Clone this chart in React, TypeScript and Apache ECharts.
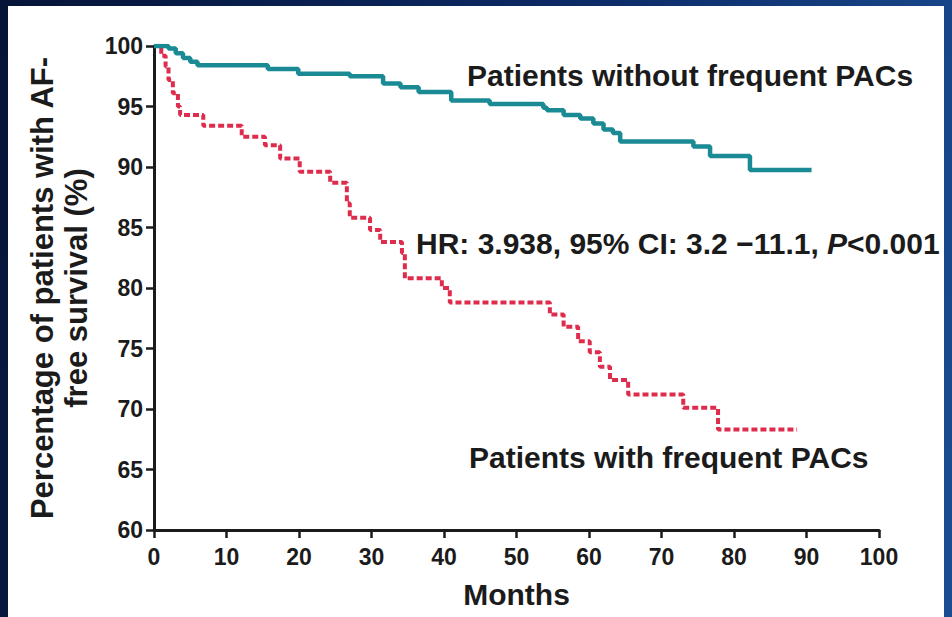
import React, { useEffect, useRef } from "react";
import * as echarts from "echarts";

// Kaplan–Meier steps (month, % AF-free)
const withoutMonths = [0, 2, 3, 4, 5, 6, 15.7, 19.9, 27, 31.6, 34, 36.5, 41, 46.3, 53.7, 54.2, 56.5, 58.8, 60.6, 62, 63.3, 64.3, 74.4, 76.7, 82.2, 90.7];
const withoutValues = [100, 99.8, 99.4, 99.0, 98.7, 98.4, 98.1, 97.7, 97.5, 96.9, 96.6, 96.2, 95.5, 95.2, 94.9, 94.7, 94.3, 94.0, 93.6, 93.1, 92.8, 92.1, 91.7, 90.9, 89.75, 89.75];

const withMonths = [0, 1.0, 1.6, 2.0, 2.6, 3.3, 3.6, 6.8, 12.1, 15.3, 17.4, 20.1, 24.3, 26.6, 27, 29.8, 31.2, 34.2, 34.6, 39.7, 40.8, 54.6, 56.5, 58.5, 60.1, 61.5, 62.9, 65.4, 73, 77.8, 88.7];
const withValues = [100, 99.2, 98.3, 97.2, 96.1, 95.0, 94.3, 93.4, 92.5, 91.8, 90.7, 89.6, 88.7, 87.0, 85.8, 84.8, 83.8, 82.9, 80.8, 80.0, 78.8, 77.8, 76.8, 75.6, 74.7, 73.5, 72.4, 71.2, 70.1, 68.3, 68.3];

const xTicks = { min: 0, max: 100, interval: 10 };
const yTicks = { min: 60, max: 100, interval: 5 };

const labelWithout = "Patients without frequent PACs";
const labelWith = "Patients with frequent PACs";
const hrText = "HR: 3.938, 95% CI: 3.2 \u221211.1, ";
const xTitle = "Months";
const yTitle = "Percentage of patients with AF-\nfree survival (%)";

const FONT = "Liberation Sans, Arial, sans-serif";
const INK = "#1b1b1b";

export default function App() {
  const ref = useRef<HTMLDivElement>(null);

  useEffect(() => {
    document.body.style.margin = "0";
    if (!ref.current) return;
    const chart = echarts.init(ref.current, null, { renderer: "svg" });
    const zip = (a: number[], b: number[]) => a.map((v, i) => [v, b[i]]);
    chart.setOption({
      animation: false,
      grid: { left: 154, right: 73, top: 46, bottom: 87, containLabel: false },
      xAxis: {
        type: "value",
        min: xTicks.min,
        max: xTicks.max,
        interval: xTicks.interval,
        name: xTitle,
        nameLocation: "middle",
        nameGap: 48,
        nameTextStyle: { fontFamily: FONT, fontWeight: "bold", fontSize: 30, color: INK, lineHeight: 32 },
        axisLine: { show: true, lineStyle: { color: INK, width: 3 } },
        axisTick: { show: true, length: 8, lineStyle: { color: INK, width: 2.5 } },
        axisLabel: { margin: 15, fontFamily: FONT, fontWeight: "bold", fontSize: 23, color: INK },
        splitLine: { show: false },
      },
      yAxis: {
        type: "value",
        min: yTicks.min,
        max: yTicks.max,
        interval: yTicks.interval,
        name: yTitle,
        nameLocation: "middle",
        nameRotate: 90,
        nameGap: 58,
        nameTextStyle: { fontFamily: FONT, fontWeight: "bold", fontSize: 31, color: INK, lineHeight: 34, align: "center" },
        axisLine: { show: true, lineStyle: { color: INK, width: 3 } },
        axisTick: { show: true, length: 8, lineStyle: { color: INK, width: 2.5 } },
        axisLabel: { margin: 11, fontFamily: FONT, fontWeight: "bold", fontSize: 23, color: INK },
        splitLine: { show: false },
      },
      series: [
        {
          type: "line",
          name: labelWith,
          step: "end",
          symbol: "none",
          data: zip(withMonths, withValues),
          lineStyle: { color: "#de2d4c", width: 4, type: [6, 3] },
        },
        {
          type: "line",
          name: labelWithout,
          step: "end",
          symbol: "none",
          data: zip(withoutMonths, withoutValues),
          lineStyle: { color: "#1a8a95", width: 4.5 },
        },
      ],
      graphic: [
        {
          type: "text",
          left: 467,
          top: 60,
          style: { text: labelWithout, fontFamily: FONT, fontWeight: "bold", fontSize: 30, fill: INK },
        },
        {
          type: "text",
          left: 416,
          top: 228,
          style: {
            text: "{a|" + hrText + "}{i|P}{a|<0.001}",
            rich: {
              a: { fontFamily: FONT, fontWeight: "bold", fontSize: 30, fill: INK, color: INK },
              i: { fontFamily: FONT, fontWeight: "bold", fontStyle: "italic", fontSize: 30, fill: INK, color: INK },
            },
          },
        },
        {
          type: "text",
          left: 469,
          top: 442,
          style: { text: labelWith, fontFamily: FONT, fontWeight: "bold", fontSize: 30, fill: INK },
        },
      ],
    });
    return () => chart.dispose();
  }, []);

  return (
    <div
      style={{
        position: "fixed",
        left: 0,
        top: 0,
        width: 952,
        height: 617,
        background: "linear-gradient(100deg, #061437 0%, #0c2a66 55%, #1a4d92 100%)",
      }}
    >
      <div style={{ position: "absolute", left: 8, top: 6, width: 936, height: 611, background: "#ffffff" }} />
      <div ref={ref} style={{ position: "absolute", left: 0, top: 0, width: 952, height: 617 }} />
    </div>
  );
}
